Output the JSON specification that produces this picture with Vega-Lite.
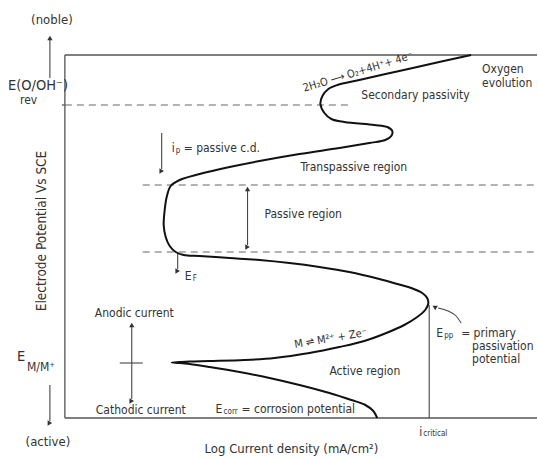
{
  "$schema": "https://vega.github.io/schema/vega-lite/v6.json",
  "description": "Schematic anodic polarization curve of an active-passive metal: potential vs log current density.",
  "width": 538,
  "height": 460,
  "autosize": {"type": "fit", "contains": "padding"},
  "padding": 0,
  "background": "white",
  "config": {
    "view": {"stroke": null},
    "text": {"font": "DejaVu Sans Condensed, DejaVu Sans", "color": "#333"}
  },
  "encoding": {
    "x": {"field": "x", "type": "quantitative", "scale": {"domain": [-65, 473], "nice": false, "zero": false}, "axis": null},
    "y": {"field": "y", "type": "quantitative", "scale": {"domain": [-42, 418], "nice": false, "zero": false}, "axis": null}
  },
  "datasets": {
    "frame": [
      {"x": 0, "y": 363, "x2": 473, "y2": 363},
      {"x": 0, "y": 363, "x2": 0, "y2": 0},
      {"x": 0, "y": 0, "x2": 473, "y2": 0},
      {"x": -3, "y": 313, "x2": 0, "y2": 313}
    ],
    "levels": [
      {"x": 0, "y": 313, "x2": 287, "y2": 313},
      {"x": 78, "y": 233, "x2": 473, "y2": 233},
      {"x": 78, "y": 166, "x2": 473, "y2": 166}
    ],
    "shafts": [
      {"x": -15, "y": 340, "x2": -15, "y2": 378},
      {"x": -15, "y": 33, "x2": -15, "y2": -3},
      {"x": 67, "y": 91, "x2": 67, "y2": 19},
      {"x": 55, "y": 55, "x2": 78, "y2": 55},
      {"x": 97, "y": 285, "x2": 97, "y2": 249},
      {"x": 183, "y": 227, "x2": 183, "y2": 173},
      {"x": 113, "y": 165, "x2": 113, "y2": 149},
      {"x": 365, "y": 113, "x2": 365, "y2": 0}
    ],
    "heads": [
      {"x": -15, "y": 380, "dir": "up"},
      {"x": -15, "y": -5, "dir": "down"},
      {"x": 67, "y": 93, "dir": "up"},
      {"x": 67, "y": 17, "dir": "down"},
      {"x": 97, "y": 247, "dir": "down"},
      {"x": 183, "y": 229, "dir": "up"},
      {"x": 183, "y": 171, "dir": "down"},
      {"x": 113, "y": 147, "dir": "down"},
      {"x": 371, "y": 110, "dir": "left"}
    ],
    "eppArrow": [
      {"i": 1, "x": 397, "y": 95},
      {"i": 2, "x": 392, "y": 102},
      {"i": 3, "x": 384, "y": 107},
      {"i": 4, "x": 374, "y": 110}
    ],
    "curve": [
      {"i": 1, "x": 313, "y": 0},
      {"i": 2, "x": 309, "y": 7},
      {"i": 3, "x": 301, "y": 13},
      {"i": 4, "x": 287, "y": 18},
      {"i": 5, "x": 265, "y": 25},
      {"i": 6, "x": 235, "y": 33},
      {"i": 7, "x": 205, "y": 40},
      {"i": 8, "x": 175, "y": 46},
      {"i": 9, "x": 145, "y": 51},
      {"i": 10, "x": 125, "y": 54},
      {"i": 11, "x": 115, "y": 55},
      {"i": 12, "x": 107, "y": 55.5},
      {"i": 13, "x": 115, "y": 56},
      {"i": 14, "x": 125, "y": 56.5},
      {"i": 15, "x": 145, "y": 57},
      {"i": 16, "x": 180, "y": 58},
      {"i": 17, "x": 210, "y": 60},
      {"i": 18, "x": 245, "y": 65},
      {"i": 19, "x": 275, "y": 71},
      {"i": 20, "x": 300, "y": 77},
      {"i": 21, "x": 322, "y": 85},
      {"i": 22, "x": 340, "y": 93},
      {"i": 23, "x": 353, "y": 101},
      {"i": 24, "x": 361, "y": 108},
      {"i": 25, "x": 364, "y": 114},
      {"i": 26, "x": 363, "y": 120},
      {"i": 27, "x": 358, "y": 125},
      {"i": 28, "x": 347, "y": 130},
      {"i": 29, "x": 333, "y": 134},
      {"i": 30, "x": 315, "y": 139},
      {"i": 31, "x": 285, "y": 146},
      {"i": 32, "x": 255, "y": 151},
      {"i": 33, "x": 225, "y": 155},
      {"i": 34, "x": 195, "y": 158},
      {"i": 35, "x": 165, "y": 160},
      {"i": 36, "x": 135, "y": 162},
      {"i": 37, "x": 119, "y": 163},
      {"i": 38, "x": 111, "y": 166},
      {"i": 39, "x": 105, "y": 172},
      {"i": 40, "x": 101, "y": 181},
      {"i": 41, "x": 99, "y": 193},
      {"i": 42, "x": 100, "y": 208},
      {"i": 43, "x": 102, "y": 221},
      {"i": 44, "x": 106, "y": 232},
      {"i": 45, "x": 115, "y": 238},
      {"i": 46, "x": 135, "y": 244},
      {"i": 47, "x": 165, "y": 251},
      {"i": 48, "x": 195, "y": 257},
      {"i": 49, "x": 235, "y": 264},
      {"i": 50, "x": 275, "y": 270},
      {"i": 51, "x": 305, "y": 275},
      {"i": 52, "x": 321, "y": 278},
      {"i": 53, "x": 327, "y": 282},
      {"i": 54, "x": 328, "y": 287},
      {"i": 55, "x": 323, "y": 291},
      {"i": 56, "x": 310, "y": 293},
      {"i": 57, "x": 280, "y": 296},
      {"i": 58, "x": 267, "y": 299},
      {"i": 59, "x": 260, "y": 305},
      {"i": 60, "x": 256, "y": 314},
      {"i": 61, "x": 258, "y": 322},
      {"i": 62, "x": 264, "y": 329},
      {"i": 63, "x": 273, "y": 333},
      {"i": 64, "x": 295, "y": 338},
      {"i": 65, "x": 335, "y": 347},
      {"i": 66, "x": 375, "y": 356},
      {"i": 67, "x": 407, "y": 363}
    ],
    "labels": [
      {"x": -45, "y": 318, "t": "rev"},
      {"x": -38, "y": 51, "t": "M/M⁺"},
      {"x": 30, "y": 105, "t": "Anodic current"},
      {"x": 31, "y": 8, "t": "Cathodic current"},
      {"x": 151, "y": 9, "t": "E"},
      {"x": 177, "y": 9, "t": "= corrosion potential"},
      {"x": 355, "y": -14, "t": "i"},
      {"x": 107, "y": 270, "t": "i"},
      {"x": 119, "y": 270, "t": "= passive c.d."},
      {"x": 236, "y": 251, "t": "Transpassive region"},
      {"x": 200, "y": 204, "t": "Passive region"},
      {"x": 120, "y": 142, "t": "E"},
      {"x": 297, "y": 323, "t": "Secondary passivity"},
      {"x": 418, "y": 349, "t": "Oxygen"},
      {"x": 418, "y": 335, "t": "evolution"},
      {"x": 265, "y": 47, "t": "Active region"},
      {"x": 372, "y": 85, "t": "E"},
      {"x": 397, "y": 85, "t": "= primary"},
      {"x": 408, "y": 72, "t": "passivation"},
      {"x": 408, "y": 59, "t": "potential"}
    ],
    "subs": [
      {"x": 159, "y": 6, "t": "corr"},
      {"x": 359, "y": -16, "t": "critical"},
      {"x": 111, "y": 267, "t": "p"},
      {"x": 128, "y": 139, "t": "F"},
      {"x": 380, "y": 82, "t": "pp"}
    ],
    "symbols": [
      {"x": -57, "y": 332, "t": "E(O/OH⁻)"},
      {"x": -48, "y": 61, "t": "E"}
    ],
    "centred": [
      {"x": -13, "y": 398, "t": "(noble)"},
      {"x": -17, "y": -24, "t": "(active)"},
      {"x": 227, "y": -31, "t": "Log Current density (mA/cm²)"}
    ],
    "yTitle": [
      {"x": -23, "y": 187, "t": "Electrode Potential Vs SCE"}
    ],
    "oxygenReaction": [
      {"x": 239, "y": 329, "t": "2H₂O ⟶ O₂+4H⁺+ 4e⁻"}
    ],
    "metalReaction": [
      {"x": 230, "y": 73, "t": "M ⇌ M²⁺ + Ze⁻"}
    ]
  },
  "layer": [
    {
      "data": {"name": "frame"},
      "mark": {"type": "rule", "color": "#555", "strokeWidth": 1.3},
      "encoding": {"x2": {"field": "x2"}, "y2": {"field": "y2"}}
    },
    {
      "data": {"name": "levels"},
      "mark": {"type": "rule", "color": "#666", "strokeWidth": 1.1, "strokeDash": [7, 5]},
      "encoding": {"x2": {"field": "x2"}, "y2": {"field": "y2"}}
    },
    {
      "data": {"name": "shafts"},
      "mark": {"type": "rule", "color": "#444", "strokeWidth": 1.1},
      "encoding": {"x2": {"field": "x2"}, "y2": {"field": "y2"}}
    },
    {
      "data": {"name": "heads"},
      "mark": {"type": "point", "shape": "triangle-up", "filled": true, "color": "#333", "size": 28, "opacity": 1},
      "encoding": {
        "angle": {"field": "dir", "type": "nominal", "scale": {"domain": ["up", "down", "left"], "range": [0, 180, 280]}, "legend": null}
      }
    },
    {
      "data": {"name": "eppArrow"},
      "mark": {"type": "line", "color": "#444", "strokeWidth": 1.1, "interpolate": "monotone"},
      "encoding": {"order": {"field": "i"}}
    },
    {
      "data": {"name": "curve"},
      "mark": {"type": "line", "color": "#111", "strokeWidth": 2, "interpolate": "catmull-rom"},
      "encoding": {"order": {"field": "i"}}
    },
    {
      "data": {"name": "labels"},
      "mark": {"type": "text", "align": "left", "baseline": "middle", "fontSize": 12},
      "encoding": {"text": {"field": "t"}}
    },
    {
      "data": {"name": "subs"},
      "mark": {"type": "text", "align": "left", "baseline": "middle", "fontSize": 8},
      "encoding": {"text": {"field": "t"}}
    },
    {
      "data": {"name": "symbols"},
      "mark": {"type": "text", "align": "left", "baseline": "middle", "fontSize": 14.5},
      "encoding": {"text": {"field": "t"}}
    },
    {
      "data": {"name": "centred"},
      "mark": {"type": "text", "align": "center", "baseline": "middle", "fontSize": 13},
      "encoding": {"text": {"field": "t"}}
    },
    {
      "data": {"name": "yTitle"},
      "mark": {"type": "text", "align": "center", "baseline": "middle", "fontSize": 13.5, "angle": 270},
      "encoding": {"text": {"field": "t"}}
    },
    {
      "data": {"name": "oxygenReaction"},
      "mark": {"type": "text", "align": "left", "baseline": "middle", "fontSize": 11, "angle": 343},
      "encoding": {"text": {"field": "t"}}
    },
    {
      "data": {"name": "metalReaction"},
      "mark": {"type": "text", "align": "left", "baseline": "middle", "fontSize": 11, "angle": 350.5},
      "encoding": {"text": {"field": "t"}}
    }
  ]
}
